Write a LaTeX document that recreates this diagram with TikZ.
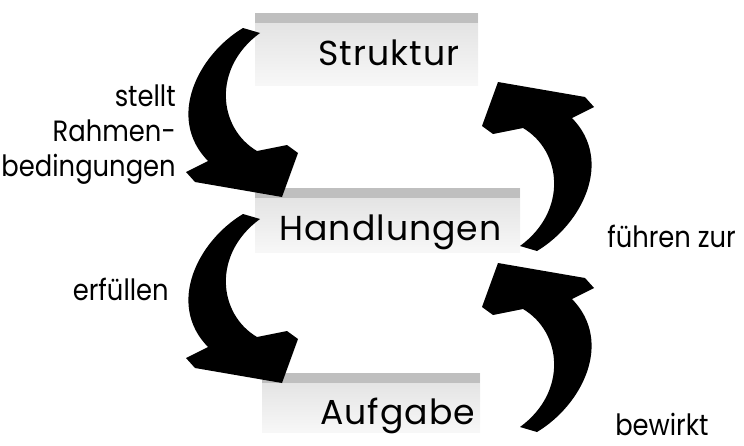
\documentclass[tikz,border=0pt]{standalone}
\usepackage{fontspec}
\setmainfont{Poppins}
\newfontfamily\boxfont[LetterSpace=3]{Poppins}
\newfontfamily\labelfont[FakeStretch=0.88]{Poppins}

\begin{document}
\begin{tikzpicture}[
x=0.75pt, y=-0.75pt,
box/.style={rectangle, inner sep=0pt, top color=gray!24, bottom color=gray!6,
  path picture={\fill[gray!50] (path picture bounding box.north west) rectangle ([yshift=-7.5pt]path picture bounding box.north east);}},
boxtext/.style={inner sep=0pt, anchor=base, font=\boxfont\fontsize{26}{30}\selectfont},
lbl/.style={inner sep=0pt, font=\labelfont\fontsize{22}{26}\selectfont},
bogen/.pic={
  \fill[black] (243,28) .. controls (198,55) and (166,118) .. (208,161)
    -- (186,172) -- (195,182) -- (282,197) -- (298,153) -- (287,145) -- (257,151)
    .. controls (218,128) and (212,68) .. (260,33) -- cycle;
},
]
\useasboundingbox (0,0) rectangle (744,446);

% Kaesten
\node[box, minimum width=167.25pt, minimum height=54pt] (struktur) at (366.5,49) {};
\node[box, minimum width=198.75pt, minimum height=48pt] (handlungen) at (387.5,220) {};
\node[box, minimum width=163.5pt, minimum height=44.25pt] (aufgabe) at (371,402.5) {};
\node[boxtext] (tstruktur) at (389,65) {Struktur};
\node[boxtext] (thandlungen) at (390.5,240) {Handlungen};
\node[boxtext] (taufgabe) at (397.5,424) {Aufgabe};

% Pfeile
\pic at (0,0) {bogen};
\pic at (0,186) {bogen};
\pic[rotate=180] at (780,279) {bogen};
\pic[rotate=180] at (780,460) {bogen};

% Beschriftungen
\node[lbl, align=right, anchor=north east] (rahmen) at (176,85) {stellt\\Rahmen-\\bedingungen};
\node[lbl, anchor=base east] (erfuellen) at (169,300) {erfüllen};
\node[lbl, anchor=base west] (fuehren) at (607,247) {führen zur};
\node[lbl, anchor=base west] (bewirkt) at (615,435) {bewirkt};
\end{tikzpicture}
\end{document}
